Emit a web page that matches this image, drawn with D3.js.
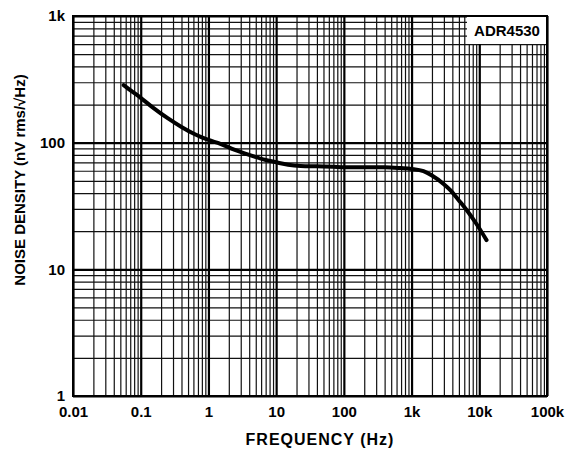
<!DOCTYPE html>
<html><head><meta charset="utf-8">
<script src="https://cdn.jsdelivr.net/npm/d3@7"></script>
<style>
body{margin:0;background:#fff;}
text{font-family:"Liberation Sans",Arial,sans-serif;font-weight:bold;fill:#000;}
</style></head>
<body><svg id="c" width="567" height="452"></svg>
<script>
const freq  = [0.056,0.07,0.1,0.15,0.25,0.4,0.6,0.8,1.0,1.5,2.4,4,7,10,15,23,40,70,100,200,400,700,1000,1500,2000,3000,3700,5000,6500,9000,12800];
const noise = [285,260,226,190,156,133,118,110,105,98,88,80,73,70,67,65.5,65,64.5,64,64,64,63,62,59.5,55,47,42.4,35,29.4,23,17];
const xTickValues = [0.01,0.1,1,10,100,1000,10000,100000];
const xTickLabels = ["0.01","0.1","1","10","100","1k","10k","100k"];
const yTickValues = [1,10,100,1000];
const yTickLabels = ["1","10","100","1k"];
const legendLabel = "ADR4530";
const xTitle = "FREQUENCY (Hz)";
const yTitle = "NOISE DENSITY (nV rms/\u221AHz)";

const L=73,R=547,T=16,B=396,W=R-L,H=B-T;
const svg=d3.select("#c");
const x=d3.scaleLog().domain([0.01,100000]).range([L,R]);
const y=d3.scaleLog().domain([1,1000]).range([B,T]);

function minors(lo,hi){const a=[];for(let k=lo;k<hi;k++){for(let m=2;m<=9;m++)a.push(m*Math.pow(10,k));}return a;}
const xMinor=minors(-2,5), yMinor=minors(0,3);

const g=svg.append("g");
g.append("g").attr("transform",`translate(0,${B})`)
 .call(d3.axisBottom(x).tickValues(xMinor).tickSize(-H).tickFormat(""))
 .call(s=>{s.select(".domain").remove();s.selectAll("line").attr("stroke","#111").attr("stroke-width",1.2);});
g.append("g").attr("transform",`translate(${L},0)`)
 .call(d3.axisLeft(y).tickValues(yMinor).tickSize(-W).tickFormat(""))
 .call(s=>{s.select(".domain").remove();s.selectAll("line").attr("stroke","#111").attr("stroke-width",1.2);});
g.append("g").attr("transform",`translate(0,${B})`)
 .call(d3.axisBottom(x).tickValues(xTickValues).tickSize(-H).tickFormat(""))
 .call(s=>{s.select(".domain").remove();s.selectAll("line").attr("stroke","#000").attr("stroke-width",2.2);});
g.append("g").attr("transform",`translate(${L},0)`)
 .call(d3.axisLeft(y).tickValues(yTickValues).tickSize(-W).tickFormat(""))
 .call(s=>{s.select(".domain").remove();s.selectAll("line").attr("stroke","#000").attr("stroke-width",2.2);});

svg.append("rect").attr("x",467).attr("y",T).attr("width",R-467).attr("height",44-T).attr("fill","#fff");
svg.append("text").attr("x",507).attr("y",36).attr("text-anchor","middle").attr("font-size",15).text(legendLabel);

svg.append("rect").attr("x",L).attr("y",T).attr("width",W).attr("height",H).attr("fill","none").attr("stroke","#000").attr("stroke-width",2);

const xa=svg.append("g").attr("transform",`translate(0,${B})`)
 .call(d3.axisBottom(x).tickValues(xTickValues).tickSize(0).tickPadding(10).tickFormat((d,i)=>xTickLabels[i]));
xa.select(".domain").remove();
xa.selectAll("text").attr("font-size",15).attr("font-family","Liberation Sans, Arial, sans-serif").attr("font-weight","bold").attr("fill","#000");
const ya=svg.append("g").attr("transform",`translate(${L},0)`)
 .call(d3.axisLeft(y).tickValues(yTickValues).tickSize(0).tickPadding(8).tickFormat((d,i)=>yTickLabels[i]));
ya.select(".domain").remove();
ya.selectAll("text").attr("font-size",15).attr("font-family","Liberation Sans, Arial, sans-serif").attr("font-weight","bold").attr("fill","#000").attr("dy","0.33em");

svg.append("text").attr("x",320).attr("y",445).attr("text-anchor","middle").attr("font-size",16).attr("letter-spacing","1px").text(xTitle);
svg.append("text").attr("transform","translate(25,180) rotate(-90)").attr("text-anchor","middle").attr("font-size",15).text(yTitle);

const line=d3.line().x((d,i)=>x(freq[i])).y((d,i)=>y(noise[i])).curve(d3.curveMonotoneX);
svg.append("path").datum(noise).attr("d",line).attr("fill","none").attr("stroke","#000").attr("stroke-width",4).attr("stroke-linejoin","round").attr("stroke-linecap","round");
</script></body></html>
